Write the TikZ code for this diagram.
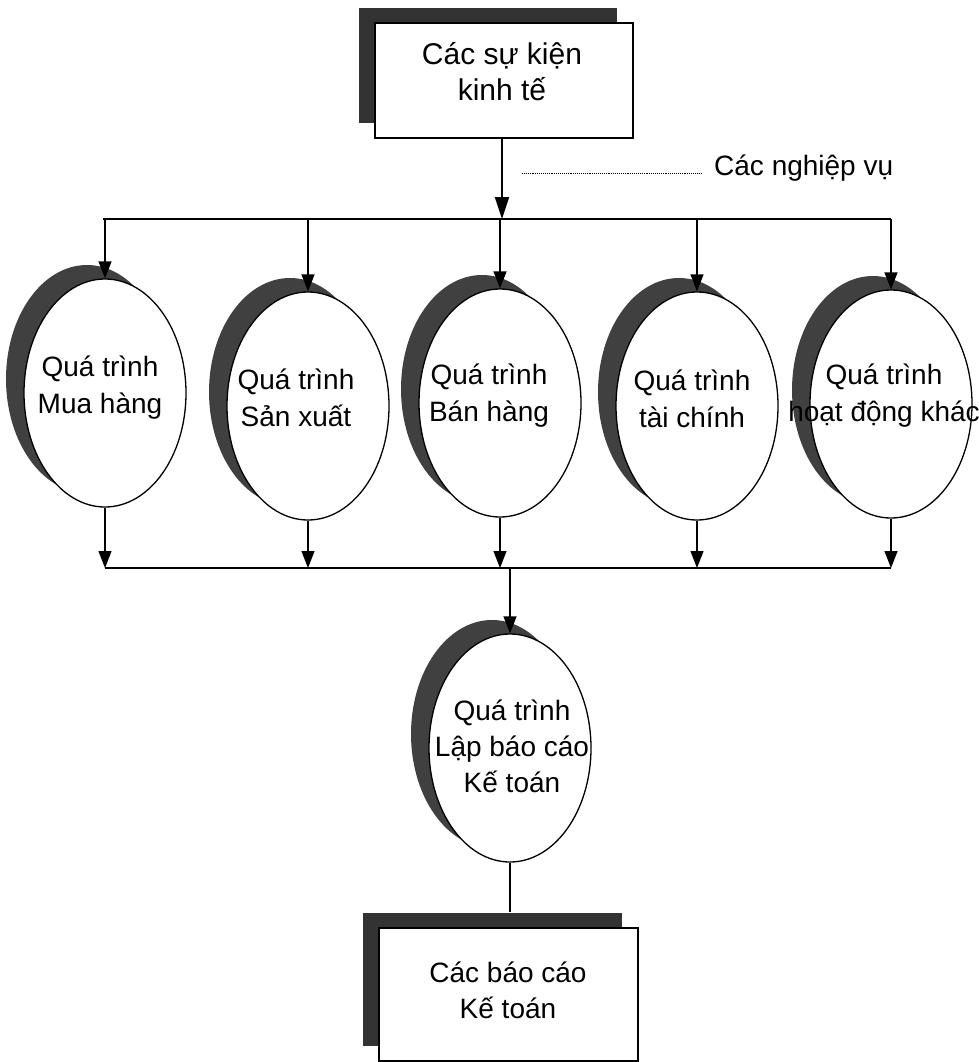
\documentclass[tikz,border=0pt]{standalone}
\usepackage{fontspec}
\setmainfont{Liberation Sans}
\usetikzlibrary{shapes.geometric,shadows,arrows.meta,calc}
\begin{document}
\begin{tikzpicture}[x=1pt,y=-1pt,
  proc/.style={ellipse, draw, line width=1.3pt, fill=white,
    minimum width=162pt, minimum height=228pt, inner sep=0pt,
    drop shadow={shadow xshift=-18pt, shadow yshift=14pt, fill=black!75, opacity=1}},
  boxnode/.style={rectangle, draw, line width=1.3pt, fill=white, inner sep=0pt,
    drop shadow={shadow xshift=-16pt, shadow yshift=15pt, fill=black!80, opacity=1}},
  ptext/.style={align=center, inner sep=0pt, font=\fontsize{28}{37}\selectfont},
  conn/.style={line width=1.3pt},
  arr/.style={conn, -{Triangle[length=17pt,width=13pt]}},
  bigarr/.style={line width=2pt, -{Triangle[length=22pt,width=14pt]}},
  leader/.style={line width=0.9pt, densely dotted}
]
\useasboundingbox (0,0) rectangle (978,1062);

% top box
\node[boxnode, minimum width=258pt, minimum height=115pt] (box1) at (504,80.5) {};
\node[ptext, font=\fontsize{30}{36}\selectfont] (t0) at (502,72) {Các sự kiện\\kinh tế};

% ellipses
\node[proc] (e1) at (105,393) {};
\node[proc] (e2) at (308,406) {};
\node[proc] (e3) at (500,403) {};
\node[proc] (e4) at (697,406) {};
\node[proc] (e5) at (891,404) {};
\node[proc] (e6) at (510,748) {};

\node[ptext] (t1) at (100,388) {Quá trình\\Mua hàng};
\node[ptext] (t2) at (296,398) {Quá trình\\Sản xuất};
\node[ptext] (t3) at (489,396) {Quá trình\\Bán hàng};
\node[ptext] (t4) at (692,399) {Quá trình\\tài chính};
\node[ptext] (t5) at (884,396) {Quá trình\\hoạt động khác};
\node[ptext, font=\fontsize{28}{36}\selectfont] (t6) at (512,746) {Quá trình\\Lập báo cáo\\Kế toán};

% bottom box
\node[boxnode, minimum width=259pt, minimum height=133pt] (box2) at (508.5,994.5) {};
\node[ptext, font=\fontsize{28}{36}\selectfont] (t7) at (508,990) {Các báo cáo\\Kế toán};

% coordinates
\coordinate (hub) at (502,219);
\coordinate (tl) at (103,219);
\coordinate (tr) at (891,219);
\coordinate (bl) at (105,568);
\coordinate (br) at (891,568);
\coordinate (bj) at (510,568);
\coordinate (lead) at (522,173);
\coordinate (sh2) at ($(box2.north)+(0,-15)$);

% label
\node[ptext, anchor=west] (lbl) at (714,168) {Các nghiệp vụ};
\draw[leader, shorten >=12pt] (lead) -- (lead -| lbl.west);

% connectors
\draw[bigarr] (box1.south -| hub) -- (hub);
\draw[conn] (tl) -- (tr);
\foreach \e in {e1,e2,e3,e4,e5}{
  \draw[arr] (\e.north |- tl) -- (\e.north);
  \draw[arr] (\e.south) -- (\e.south |- bl);
}
\draw[conn] (bl) -- (br);
\draw[arr] (bj) -- (e6.north);
\draw[conn] (e6.south) -- (e6.south |- sh2);
\end{tikzpicture}
\end{document}
